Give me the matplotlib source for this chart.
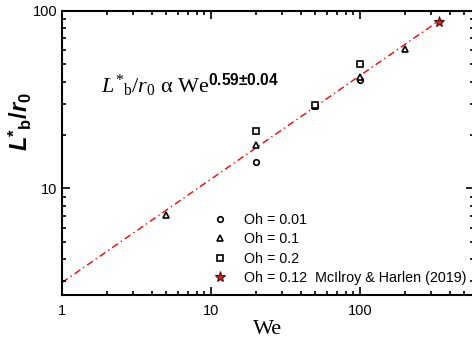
import matplotlib
matplotlib.use("Agg")
import matplotlib.pyplot as plt
from matplotlib.ticker import LogLocator, NullFormatter, FixedLocator, FixedFormatter

plt.rcParams["font.family"] = ["Liberation Sans", "DejaVu Sans"]
plt.rcParams["mathtext.fontset"] = "custom"
plt.rcParams["mathtext.rm"] = "Liberation Serif"
plt.rcParams["mathtext.it"] = "Liberation Serif:italic"
plt.rcParams["mathtext.bf"] = "Liberation Sans:bold"
plt.rcParams["mathtext.sf"] = "Liberation Sans:bold:italic"

# ---- data ----
we_001 = [20, 50, 100]
L_001 = [14.1, 29.0, 41.0]
we_01 = [5, 20, 50, 100, 200]
L_01 = [7.1, 17.6, 29.3, 42.6, 60.8]
we_02 = [20, 50, 100]
L_02 = [21.2, 29.4, 50.2]
we_mc = [340]
L_mc = [87.0]
fit_we = [1, 350]
fit_L = [2.95, 90.0]

fig = plt.figure(figsize=(4.72, 3.43), dpi=100)
ax = fig.add_axes([62 / 472, (343 - 295.3) / 343, (474 - 62) / 472, (295.3 - 11) / 343])

ax.plot(fit_we, fit_L, color="red", lw=1.0, ls=(0, (5, 2.5, 1, 2.5)), zorder=1)
mk = dict(ls="none", mfc="white", mec="black", mew=1.2, zorder=3)
ax.plot(we_001, L_001, marker="o", ms=4, label="Oh = 0.01", **mk)
ax.plot(we_01, L_01, marker="^", ms=5, label="Oh = 0.1", **mk)
ax.plot(we_02, L_02, marker="s", ms=3.8, label="Oh = 0.2", **mk)
ax.plot(we_mc, L_mc, ls="none", marker="*", ms=8, mfc="#d42020", mec="#501010", mew=0.8,
        label="Oh = 0.12  McIlroy & Harlen (2019)", zorder=4)

ax.set_xscale("log")
ax.set_yscale("log")
ax.set_xlim(1, 580)
ax.set_ylim(2.5, 100)

ax.xaxis.set_major_locator(FixedLocator([1, 10, 100]))
ax.xaxis.set_major_formatter(FixedFormatter(["1", "10", "100"]))
ax.xaxis.set_minor_locator(LogLocator(base=10, subs=range(2, 10)))
ax.xaxis.set_minor_formatter(NullFormatter())
ax.yaxis.set_major_locator(FixedLocator([10, 100]))
ax.yaxis.set_major_formatter(FixedFormatter(["10", "100"]))
ax.yaxis.set_minor_locator(LogLocator(base=10, subs=range(2, 10)))
ax.yaxis.set_minor_formatter(NullFormatter())

ax.tick_params(which="both", direction="in", top=True, right=True, width=1.2,
               labelsize=10.5, colors="black")
ax.tick_params(axis="x", which="major", pad=6)
ax.tick_params(which="major", length=6)
ax.tick_params(which="minor", length=3)
for s in ax.spines.values():
    s.set_linewidth(1.5)

ax.set_xlabel("We", fontfamily="Liberation Serif", fontsize=16, labelpad=2)
ax.set_ylabel(r"$\mathsf{L}^{\mathbf{*}}{}_{\mathbf{b}}\mathbf{/}\mathsf{r}_{\mathbf{0}}$",
              fontsize=17)
ax.yaxis.set_label_coords(-0.068, 0.61)

ax.text(0.095, 0.74,
        r"$\mathit{L}^{*}{}_{\mathrm{b}}/\mathit{r}_{0}\ \mathrm{\alpha\ We}^{\mathbf{0.59{\pm}0.04}}$",
        transform=ax.transAxes, fontsize=16, ha="left", va="center")

ax.legend(loc="lower right", bbox_to_anchor=(1.0 + 3 / 412, 0.0), frameon=False, fontsize=10.3,
          handlelength=1.2, handletextpad=1.1, labelspacing=0.38, borderaxespad=0.3)

fig.savefig("out.png", dpi=100)
